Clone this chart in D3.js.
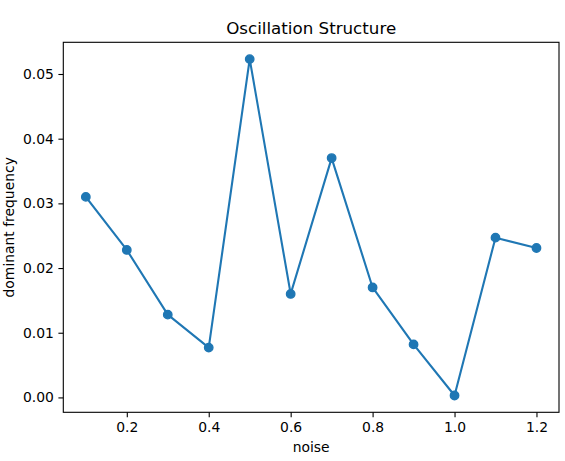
<!DOCTYPE html>
<html>
<head>
<meta charset="utf-8">
<script src="https://cdn.jsdelivr.net/npm/d3@7"></script>
<style>
  body { margin: 0; background: #fff; }
  svg text { font-family: "DejaVu Sans", sans-serif; fill: #000; }
</style>
</head>
<body>
<div class="chart"></div>
<script>

// Data
var noise = [0.1, 0.2, 0.3, 0.4, 0.5, 0.6, 0.7, 0.8, 0.9, 1.0, 1.1, 1.2];
var freq = [0.0310, 0.0228, 0.0128, 0.0077, 0.0523, 0.0160, 0.0370, 0.0170, 0.0082, 0.0003, 0.0247, 0.0231];
var xTicks = [0.2, 0.4, 0.6, 0.8, 1.0, 1.2];
var yTicks = [0.00, 0.01, 0.02, 0.03, 0.04, 0.05];

var width = 565, height = 461;
var margin = { top: 42.3, right: 6, bottom: 48.7, left: 63.3 };
var w = width - margin.left - margin.right;
var h = height - margin.top - margin.bottom;

var svg = d3.select(".chart")
    .append("svg")
      .attr("width", width)
      .attr("height", height);

var g = svg.append("g")
    .attr("transform", "translate(" + margin.left + "," + margin.top + ")");

// matplotlib style 5% margins
var xExt = d3.extent(noise), yExt = d3.extent(freq);
var xPad = (xExt[1] - xExt[0]) * 0.05, yPad = (yExt[1] - yExt[0]) * 0.05;

var x = d3.scaleLinear()
    .domain([xExt[0] - xPad, xExt[1] + xPad])
    .range([0, w]);

var y = d3.scaleLinear()
    .domain([yExt[0] - yPad, yExt[1] + yPad])
    .range([h, 0]);

var xAxis = g.append("g")
    .attr("transform", "translate(0," + h + ")")
    .call(d3.axisBottom(x)
        .tickValues(xTicks)
        .tickFormat(d3.format(".1f"))
        .tickSize(4.9)
        .tickPadding(4.5)
        .tickSizeOuter(0));

var yAxis = g.append("g")
    .call(d3.axisLeft(y)
        .tickValues(yTicks)
        .tickFormat(d3.format(".2f"))
        .tickSize(4.9)
        .tickPadding(4.5)
        .tickSizeOuter(0));

[xAxis, yAxis].forEach(function(a) {
    a.select(".domain").remove();
    a.selectAll("line").attr("stroke", "#000").attr("stroke-width", 1.1);
    a.selectAll("text")
        .style("font-size", "13.9px")
        .style("font-family", "DejaVu Sans");
});

// frame
g.append("rect")
    .attr("width", w)
    .attr("height", h)
    .attr("fill", "none")
    .attr("stroke", "#000")
    .attr("stroke-width", 1.1);

var line = d3.line()
    .x(function(d, i) { return x(noise[i]); })
    .y(function(d) { return y(d); });

g.append("path")
    .datum(freq)
    .attr("d", line)
    .attr("fill", "none")
    .attr("stroke", "#1f77b4")
    .attr("stroke-width", 2.1)
    .attr("stroke-linejoin", "round")
    .attr("stroke-linecap", "square");

g.selectAll(".dot")
    .data(freq)
    .enter().append("circle")
      .attr("class", "dot")
      .attr("cx", function(d, i) { return x(noise[i]); })
      .attr("cy", function(d) { return y(d); })
      .attr("r", 4.2)
      .attr("fill", "#1f77b4")
      .attr("stroke", "#1f77b4")
      .attr("stroke-width", 1.4);

// title and labels
svg.append("text")
    .attr("x", margin.left + w / 2)
    .attr("y", 34)
    .attr("text-anchor", "middle")
    .style("font-size", "16.7px")
    .text("Oscillation Structure");

svg.append("text")
    .attr("x", margin.left + w / 2)
    .attr("y", 452)
    .attr("text-anchor", "middle")
    .style("font-size", "13.9px")
    .text("noise");

svg.append("text")
    .attr("transform", "translate(14," + (margin.top + h / 2) + ") rotate(-90)")
    .attr("text-anchor", "middle")
    .style("font-size", "13.9px")
    .text("dominant frequency");

</script>
</body>
</html>
